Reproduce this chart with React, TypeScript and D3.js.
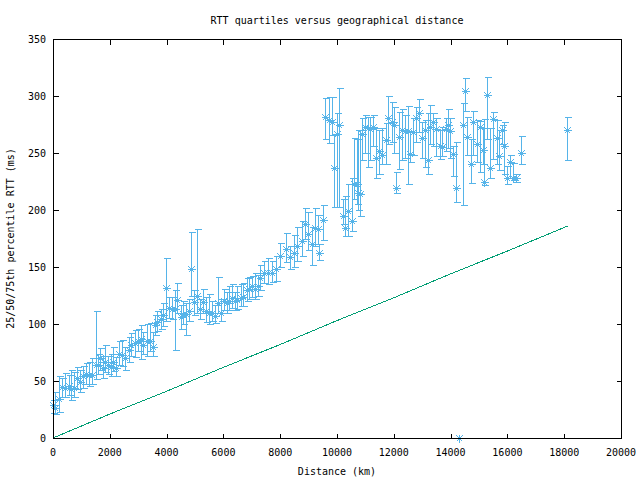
import React from "react";
import * as d3 from "d3";

const titleText = "RTT quartiles versus geographical distance";
const xLabel = "Distance (km)";
const yLabel = "25/50/75th percentile RTT (ms)";
const xTicks = [0, 2000, 4000, 6000, 8000, 10000, 12000, 14000, 16000, 18000, 20000];
const yTicks = [0, 50, 100, 150, 200, 250, 300, 350];

const distKm = [
  0, 81, 200, 317, 412, 553, 645, 740, 834, 950, 1045, 1162, 1280, 1373, 1514, 1585, 1655, 1750, 1843, 1937,
  2030, 2124, 2218, 2313, 2430, 2547, 2665, 2758, 2875, 2993, 3087, 3180, 3298, 3415, 3510, 3580, 3650, 3791, 3885, 3979,
  4097, 4190, 4285, 4377, 4496, 4590, 4683, 4777, 4870, 4965, 5081, 5176, 5292, 5387, 5482, 5598, 5715, 5810, 5905, 6021,
  6116, 6208, 6303, 6397, 6490, 6609, 6702, 6820, 6912, 7007, 7102, 7218, 7289, 7430, 7582, 7700, 7852, 8000, 8190, 8330,
  8470, 8590, 8757, 8873, 8990, 9109, 9225, 9342, 9377, 9496,
  9577, 9718, 9812, 9894, 10011, 10070, 10200, 10293, 10398, 10517, 10610, 10694, 10750, 10800, 10891, 10986, 11081, 11173, 11268, 11384,
  11479, 11595, 11714, 11806, 11926, 11996, 12088, 12183, 12299, 12394, 12489, 12581, 12676, 12792, 12887, 12982, 13099, 13215, 13285, 13380,
  13496, 13616, 13708, 13827, 13898, 13989, 14085, 14201, 14306, 14426, 14518, 14588, 14708, 14799, 14919, 15035, 15130, 15176, 15292, 15387,
  15504, 15623, 15715, 15810, 15880, 15997, 16092, 16208, 16303, 16490, 18110,
];
const medianMs = [
  29, 26, 34, 45, 44, 46, 43, 44, 53, 49, 54, 56, 55, 55, 64, 64, 70, 61, 67, 64,
  62, 67, 61, 74, 73, 70, 77, 82, 83, 85, 87, 82, 85, 85, 80, 99, 102, 104, 108, 132,
  114, 113, 113, 121, 106, 109, 109, 111, 148, 119, 125, 113, 119, 111, 110, 110, 107, 118, 110, 120,
  118, 120, 123, 120, 121, 123, 124, 130, 131, 133, 131, 133, 140, 145, 145, 145, 148, 160, 166, 159,
  162, 168, 173, 188, 179, 170, 184, 183, 162, 191,
  282, 279, 277, 237, 267, 275, 195, 184, 199, 190, 223, 223, 215, 214, 267, 273, 272, 271, 273, 246,
  252, 248, 261, 281, 277, 275, 219, 264, 270, 269, 269, 249, 268, 281, 285, 263, 270, 244, 273, 277,
  271, 256, 255, 271, 275, 269, 249, 219, 0, 275, 304, 264, 240, 277, 258, 273, 253, 225, 301, 237,
  280, 263, 247, 270, 256, 228, 242, 228, 228, 250, 270,
];
const q25Ms = [
  22, 21, 23, 36, 36, 38, 33, 36, 43, 40, 44, 47, 46, 47, 52, 56, 60, 53, 58, 56,
  54, 59, 54, 64, 63, 60, 67, 72, 71, 76, 69, 74, 72, 76, 72, 90, 94, 96, 98, 103,
  105, 104, 77, 110, 96, 100, 90, 103, 125, 108, 110, 104, 110, 102, 100, 103, 101, 110, 103, 112,
  110, 112, 114, 112, 113, 116, 116, 120, 122, 124, 122, 125, 130, 136, 135, 137, 138, 150, 154, 148,
  150, 155, 160, 175, 165, 152, 168, 170, 156, 174,
  262, 259, 266, 203, 203, 203, 188, 177, 177, 182, 210, 205, 200, 195, 244, 250, 238, 244, 256, 228,
  232, 240, 240, 258, 260, 250, 215, 236, 244, 246, 223, 242, 248, 260, 268, 246, 238, 232, 258, 256,
  247, 245, 247, 252, 254, 246, 230, 207, 0, 204, 287, 248, 224, 248, 242, 233, 240, 222, 262, 228,
  245, 240, 235, 258, 232, 223, 228, 226, 225, 240, 244,
];
const q75Ms = [
  33, 40, 54, 53, 57, 55, 60, 58, 62, 60, 63, 66, 67, 70, 111, 74, 79, 72, 82, 72,
  74, 80, 71, 85, 86, 80, 89, 92, 95, 96, 99, 93, 100, 101, 93, 108, 111, 113, 118, 158,
  124, 124, 130, 136, 117, 120, 118, 122, 181, 130, 183, 122, 131, 124, 126, 120, 117, 141, 122, 131,
  128, 133, 135, 128, 133, 135, 136, 140, 141, 142, 145, 143, 152, 155, 158, 155, 160, 171, 180, 168,
  178, 185, 190, 202, 198, 185, 202, 196, 170, 204,
  298, 299, 299, 267, 285, 307, 210, 212, 223, 228, 263, 262, 270, 270, 281, 283, 282, 282, 283, 272,
  270, 272, 276, 300, 295, 290, 233, 286, 289, 283, 291, 268, 281, 290, 297, 277, 279, 285, 292, 285,
  281, 270, 273, 281, 289, 281, 256, 260, 0, 294, 316, 282, 262, 287, 279, 278, 272, 280, 317, 272,
  286, 279, 270, 275, 277, 239, 248, 241, 232, 265, 282,
];

const lightKm = [0, 2000, 4000, 6000, 8000, 10000, 12000, 14000, 16000, 18130];
const lightMs = [0, 21, 41, 62, 82, 103, 123, 144, 164, 186];

const BLUE = "#56B4E9";
const GREEN = "#009E73";
const FONT = "'DejaVu Sans Mono', monospace";

export default function App() {
  const left = 53, right = 621, top = 39, bottom = 438;
  const x = d3.scaleLinear().domain([0, 20000]).range([left, right]);
  const y = d3.scaleLinear().domain([0, 350]).range([bottom, top]);
  const px = (v: number) => Math.round(x(v)) + 0.5;
  const py = (v: number) => Math.round(y(v)) + 0.5;
  const tick = 5;

  const line = d3
    .line<number>()
    .x((_, i) => x(lightKm[i]))
    .y((d) => y(d));

  const pts = distKm.map((d, i) => ({ d, m: medianMs[i], lo: q25Ms[i], hi: q75Ms[i] }));

  return (
    <svg
      width={640}
      height={480}
      style={{ position: "fixed", left: 0, top: 0, background: "#fff" }}
      fontFamily={FONT}
      fontSize={10}
    >
      <rect x={0} y={0} width={640} height={480} fill="#fff" />
      <path d={line(lightMs) || ""} fill="none" stroke={GREEN} strokeWidth={1} shapeRendering="crispEdges" />
      <g stroke={BLUE} strokeWidth={1} shapeRendering="crispEdges" fill="none">
        {pts.map((p, i) =>
          p.hi - p.lo > 0 ? (
            <g key={i}>
              <line x1={px(p.d)} x2={px(p.d)} y1={py(p.lo)} y2={py(p.hi)} />
              <line x1={px(p.d) - 3} x2={px(p.d) + 4} y1={py(p.lo)} y2={py(p.lo)} />
              <line x1={px(p.d) - 3} x2={px(p.d) + 4} y1={py(p.hi)} y2={py(p.hi)} />
            </g>
          ) : null
        )}
      </g>
      <g stroke={BLUE} strokeWidth={1} fill="none" shapeRendering="crispEdges">
        {pts.map((p, i) => {
          const cx = px(p.d), cy = py(p.m);
          return (
            <g key={i}>
              <line x1={cx - 4} x2={cx + 4} y1={cy} y2={cy} />
              <line x1={cx} x2={cx} y1={cy - 4} y2={cy + 4} />
              <line x1={cx - 3} x2={cx + 3} y1={cy - 3} y2={cy + 3} />
              <line x1={cx - 3} x2={cx + 3} y1={cy + 3} y2={cy - 3} />
            </g>
          );
        })}
      </g>
      <g stroke="#000" strokeWidth={1} shapeRendering="crispEdges" fill="none">
        <rect x={left + 0.5} y={top + 0.5} width={right - left} height={bottom - top} />
        {xTicks.map((t) => (
          <g key={"x" + t}>
            <line x1={px(t)} x2={px(t)} y1={bottom + 0.5} y2={bottom + 0.5 - tick} />
            <line x1={px(t)} x2={px(t)} y1={top + 0.5} y2={top + 0.5 + tick} />
          </g>
        ))}
        {yTicks.map((t) => (
          <g key={"y" + t}>
            <line x1={left + 0.5} x2={left + 0.5 + tick} y1={py(t)} y2={py(t)} />
            <line x1={right + 0.5} x2={right + 0.5 - tick} y1={py(t)} y2={py(t)} />
          </g>
        ))}
      </g>
      <g fill="#000">
        {xTicks.map((t) => (
          <text key={"xl" + t} x={x(t)} y={456} textAnchor="middle">
            {t}
          </text>
        ))}
        {yTicks.map((t) => (
          <text key={"yl" + t} x={46} y={y(t) + 4} textAnchor="end">
            {t}
          </text>
        ))}
        <text x={(left + right) / 2} y={475} textAnchor="middle">
          {xLabel}
        </text>
        <text x={(left + right) / 2} y={24} textAnchor="middle">
          {titleText}
        </text>
        <text transform={`translate(14, ${(top + bottom) / 2}) rotate(-90)`} textAnchor="middle">
          {yLabel}
        </text>
      </g>
    </svg>
  );
}
